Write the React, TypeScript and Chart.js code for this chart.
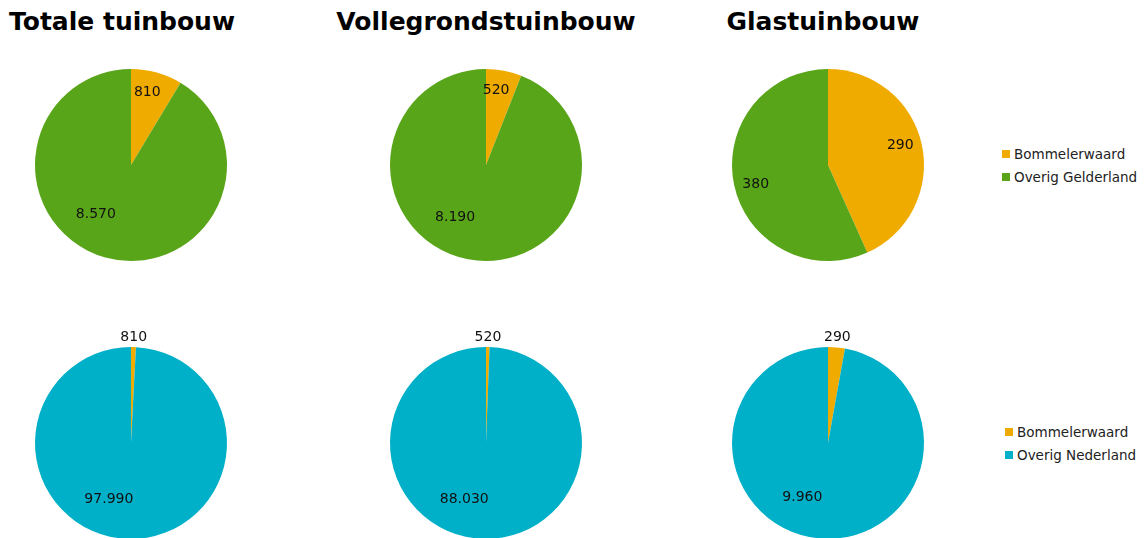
import React, { useEffect, useRef } from "react";
import { Chart, registerables } from "chart.js";

Chart.register(...registerables);

const regionLabels = ["Bommelerwaard", "Overig Gelderland"];
const nationalLabels = ["Bommelerwaard", "Overig Nederland"];
const titles = ["Totale tuinbouw", "Vollegrondstuinbouw", "Glastuinbouw"];

const gelderlandTotaal = [810, 8570];
const gelderlandVollegrond = [520, 8190];
const gelderlandGlas = [290, 380];

const nederlandTotaal = [810, 97990];
const nederlandVollegrond = [520, 88030];
const nederlandGlas = [290, 9960];

const ORANGE = "#F0AB00";
const GREEN = "#59A519";
const TEAL = "#00AFC8";
const FONT = "'DejaVu Sans', Verdana, sans-serif";

function fmt(v: number): string {
  const s = Math.round(v).toString();
  return s.replace(/\B(?=(\d{3})+(?!\d))/g, ".");
}

const labelPlugin = {
  id: "sliceLabels",
  afterDatasetsDraw(chart: any) {
    const ctx = chart.ctx;
    const meta = chart.getDatasetMeta(0);
    const data: number[] = chart.data.datasets[0].data;
    const total = data.reduce((a, b) => a + b, 0);
    ctx.save();
    ctx.font = `14px ${FONT}`;
    ctx.fillStyle = "#111";
    ctx.textAlign = "center";
    ctx.textBaseline = "middle";
    meta.data.forEach((arc: any, i: number) => {
      const p = arc.getProps(["x", "y", "startAngle", "endAngle", "outerRadius"], true);
      const frac = data[i] / total;
      let ang = (p.startAngle + p.endAngle) / 2;
      let r: number;
      if (frac < 0.05) {
        r = p.outerRadius + 10;
      } else if (frac > 0.8) {
        ang += (20 * Math.PI) / 180;
        r = p.outerRadius * 0.63;
      } else {
        ang -= (3 * Math.PI) / 180;
        r = p.outerRadius * 0.78;
      }
      const x = p.x + Math.cos(ang) * r;
      const y = p.y + Math.sin(ang) * r;
      ctx.fillText(fmt(data[i]), x, y);
    });
    ctx.restore();
  },
};

const SIZE = 240;
const PAD = 24;

function PieChart(props: {
  values: number[];
  labels: string[];
  colors: string[];
  cx: number;
  cy: number;
}) {
  const ref = useRef<HTMLCanvasElement | null>(null);
  useEffect(() => {
    if (!ref.current) return;
    const chart = new Chart(ref.current, {
      type: "pie",
      data: {
        labels: props.labels,
        datasets: [
          {
            data: props.values,
            backgroundColor: props.colors,
            borderWidth: 0,
          },
        ],
      },
      options: {
        responsive: false,
        animation: false,
        layout: { padding: PAD },
        plugins: {
          legend: { display: false },
          tooltip: { enabled: false },
          title: { display: false },
        },
      },
      plugins: [labelPlugin],
    });
    return () => chart.destroy();
  }, []);
  return (
    <canvas
      ref={ref}
      width={SIZE}
      height={SIZE}
      style={{
        position: "absolute",
        left: props.cx - SIZE / 2,
        top: props.cy - SIZE / 2,
        width: SIZE,
        height: SIZE,
      }}
    />
  );
}

function Legend(props: { labels: string[]; colors: string[]; left: number; top: number }) {
  return (
    <div style={{ position: "absolute", left: props.left, top: props.top, fontFamily: FONT, fontSize: 13.5, color: "#222" }}>
      {props.labels.map((l, i) => (
        <div key={l} style={{ display: "flex", alignItems: "center", height: 23, whiteSpace: "nowrap" }}>
          <span style={{ display: "inline-block", width: 8, height: 8, background: props.colors[i], marginRight: 4 }} />
          <span>{l}</span>
        </div>
      ))}
    </div>
  );
}

export default function App() {
  const xs = [131, 486, 828];
  const topY = 165;
  const botY = 443;
  const topSets = [gelderlandTotaal, gelderlandVollegrond, gelderlandGlas];
  const botSets = [nederlandTotaal, nederlandVollegrond, nederlandGlas];
  return (
    <div style={{ position: "absolute", left: 0, top: 0, width: 1146, height: 538, overflow: "hidden", background: "#fff" }}>
      {titles.map((t, i) => (
        <div
          key={t}
          style={{
            position: "absolute",
            left: xs[i] - 200 - (i === 0 ? 9 : i === 2 ? 5 : 0),
            width: 400,
            top: 7,
            textAlign: "center",
            fontFamily: FONT,
            fontWeight: "bold",
            fontSize: 25,
            color: "#000",
          }}
        >
          {t}
        </div>
      ))}
      {topSets.map((v, i) => (
        <PieChart key={"t" + i} values={v} labels={regionLabels} colors={[ORANGE, GREEN]} cx={xs[i]} cy={topY} />
      ))}
      {botSets.map((v, i) => (
        <PieChart key={"b" + i} values={v} labels={nationalLabels} colors={[ORANGE, TEAL]} cx={xs[i]} cy={botY} />
      ))}
      <Legend labels={regionLabels} colors={[ORANGE, GREEN]} left={1002} top={142} />
      <Legend labels={nationalLabels} colors={[ORANGE, TEAL]} left={1005} top={420} />
    </div>
  );
}
